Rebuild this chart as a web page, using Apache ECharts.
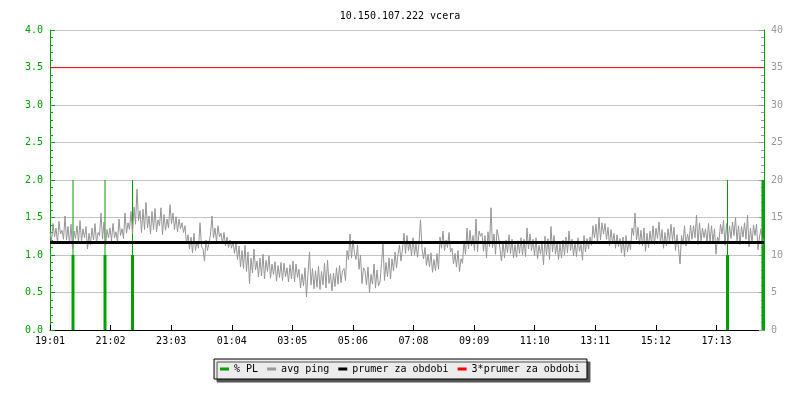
<!DOCTYPE html>
<html>
<head>
<meta charset="utf-8">
<script src="https://cdn.jsdelivr.net/npm/echarts@6/dist/echarts.min.js"></script>
<style>
  html, body { margin: 0; padding: 0; background: #fff; }
  #chart { width: 800px; height: 400px; }
</style>
</head>
<body>
<div id="chart"></div>
<script>
// time in minutes from 19:01, one ping sample every 3 min
const startMinute = 19 * 60 + 1
const stepMin = 3
const xTickMin = 121.17

// avg ping [ms], right axis
const avgPing = [
  13.1, 11.9, 14.2, 12.4, 13.6, 11.6, 14.5, 12.8, 13.3, 12.1, 15.2, 12.0, 13.8, 11.5, 14.1, 10.8, 13.2, 12.2, 13.9, 11.7,
  14.6, 11.8, 13.5, 12.3, 13.8, 10.8, 12.9, 11.4, 13.6, 12.0, 14.2, 11.6, 13.0, 12.6, 15.6, 12.1, 14.4, 11.2, 13.4, 12.3,
  13.6, 11.9, 14.2, 12.3, 13.1, 11.7, 14.8, 12.6, 13.5, 12.2, 15.6, 12.9, 14.3, 13.4, 15.8, 12.8, 16.4, 14.1, 18.8, 14.6,
  15.9, 13.0, 16.1, 13.4, 17.0, 13.6, 15.2, 12.8, 15.8, 13.4, 16.2, 13.1, 14.7, 13.9, 16.3, 12.7, 15.4, 13.3, 14.8, 13.6,
  16.7, 14.2, 15.6, 13.4, 15.1, 13.1, 14.8, 13.5, 14.3, 13.0, 13.9, 11.5, 12.7, 10.8, 12.4, 10.3, 12.9, 10.6, 11.8, 10.9,
  14.3, 11.1, 10.8, 9.2, 12.0, 10.6, 11.6, 12.8, 15.2, 12.3, 13.6, 11.8, 13.9, 12.4, 12.9, 11.5, 13.0, 11.2, 12.4, 11.0,
  12.0, 10.9, 11.8, 10.2, 11.6, 9.4, 11.2, 8.4, 10.6, 8.2, 11.3, 7.8, 10.4, 6.2, 9.6, 7.6, 10.8, 8.0, 9.2, 7.1,
  9.6, 7.2, 10.1, 6.8, 9.3, 7.8, 9.9, 6.9, 8.8, 7.4, 9.1, 6.5, 8.6, 7.0, 9.0, 6.6, 8.9, 7.1, 8.3, 6.4,
  8.7, 6.8, 9.2, 6.4, 8.8, 7.0, 8.1, 5.6, 7.5, 5.9, 8.3, 4.4, 7.6, 10.4, 6.0, 8.2, 5.5, 7.9, 5.7, 8.5,
  5.4, 7.8, 6.0, 8.9, 5.6, 9.3, 6.2, 7.5, 5.2, 7.6, 5.8, 8.3, 6.1, 8.6, 6.3, 7.9, 8.2, 6.6, 10.6, 9.4,
  12.8, 9.6, 12.0, 10.2, 9.4, 11.3, 8.1, 10.0, 6.2, 8.3, 7.9, 6.0, 8.4, 5.0, 7.4, 6.1, 8.8, 5.6, 8.0, 5.9,
  6.4, 8.9, 11.6, 6.6, 9.0, 7.1, 9.6, 6.8, 9.5, 7.9, 10.4, 8.3, 10.1, 11.3, 9.2, 10.8, 12.9, 10.2, 12.6, 10.6,
  11.8, 9.9, 12.3, 10.0, 11.5, 9.7, 11.6, 14.7, 10.8, 9.5, 11.0, 8.6, 10.1, 8.4, 10.3, 7.7, 9.4, 7.9, 10.2, 8.1,
  12.4, 10.9, 13.2, 10.6, 12.0, 11.0, 13.0, 10.4, 10.9, 8.8, 10.2, 8.4, 10.6, 7.8, 9.5, 8.9, 11.9, 10.1, 13.6, 10.8,
  13.3, 11.2, 12.6, 10.6, 14.8, 10.4, 13.2, 12.5, 12.9, 10.5, 12.6, 9.6, 13.1, 11.1, 16.3, 11.0, 12.8, 10.1, 13.4, 12.4,
  12.2, 9.2, 11.8, 9.6, 12.0, 10.3, 12.7, 10.2, 12.1, 9.6, 11.4, 9.7, 11.9, 10.2, 12.3, 10.0, 12.1, 9.8, 13.6, 10.8,
  12.8, 10.6, 12.1, 9.9, 12.3, 9.5, 11.3, 10.1, 11.6, 8.7, 12.5, 10.0, 12.2, 9.4, 13.8, 10.4, 12.6, 10.1, 11.6, 9.4,
  11.5, 9.6, 12.0, 10.0, 12.4, 10.3, 13.2, 10.6, 12.1, 9.9, 11.8, 9.8, 12.3, 10.5, 11.4, 9.3, 12.6, 10.4, 12.2, 10.8,
  12.4, 11.3, 13.9, 12.3, 14.1, 11.6, 15.0, 12.0, 14.3, 12.8, 14.2, 12.1, 13.7, 11.2, 13.4, 11.6, 12.9, 10.9, 12.7, 11.1,
  12.2, 10.3, 12.4, 9.8, 12.6, 10.4, 11.9, 10.7, 13.6, 12.6, 15.6, 12.0, 13.7, 11.4, 13.3, 11.2, 13.6, 10.5, 12.9, 11.0,
  13.2, 11.5, 13.9, 11.4, 13.6, 12.2, 14.4, 11.6, 13.4, 10.9, 13.0, 11.2, 13.5, 11.8, 14.1, 11.9, 13.7, 10.6, 12.7, 10.9,
  8.8, 12.6, 11.4, 13.9, 11.2, 12.8, 11.8, 14.0, 12.1, 13.9, 12.3, 15.3, 11.4, 14.3, 11.9, 13.6, 12.3, 13.5, 11.6, 14.2,
  11.6, 13.9, 11.7, 13.5, 10.1, 12.4, 11.9, 14.1, 12.8, 14.6, 11.3, 14.2, 11.6, 13.9, 12.2, 14.4, 12.6, 15.0, 11.8, 13.9,
  11.4, 13.8, 12.4, 14.3, 12.1, 15.3, 11.1, 13.6, 11.5, 14.0, 12.6, 14.1, 10.7, 12.4, 13.5, 11.3, 12.2
]
const endMin = (avgPing.length - 1) * stepMin

// packet loss [%], left axis
const plTimes = [46, 110, 165, 1355, 1426]
const plMax = [2, 2, 2, 2, 2]
const plAvg = [1, 1, 1, 1, 2]

const prumer = 11.66 // prumer za obdobi [ms]

const leftTicks = [0, 4, 0.5]
const rightTicks = [0, 40, 5]

const green = '#00a000'
const font = 'DejaVu Sans Mono'

function fmtTime(m) {
  const t = (startMinute + Math.floor(m + 1e-6)) % 1440
  const h = Math.floor(t / 60), mm = t % 60
  return String(h).padStart(2, '0') + ':' + String(mm).padStart(2, '0')
}

const chart = echarts.init(document.getElementById('chart'), null, { renderer: 'canvas' })

chart.setOption({
  animation: false,
  title: {
    text: '10.150.107.222 vcera',
    left: 'center',
    top: 6,
    textStyle: { fontFamily: font, fontSize: 10, fontWeight: 'normal', color: '#000' }
  },
  legend: {
    top: 359,
    left: 'center',
    icon: 'rect',
    itemWidth: 9,
    itemHeight: 3,
    itemGap: 9,
    padding: [5, 7, 5, 6],
    backgroundColor: '#ececec',
    borderColor: '#000',
    borderWidth: 1,
    borderRadius: 0,
    shadowColor: '#555',
    shadowOffsetX: 3,
    shadowOffsetY: 3,
    shadowBlur: 0,
    textStyle: { fontFamily: font, fontSize: 10, color: '#000' },
    data: ['% PL', 'avg ping', 'prumer za obdobi', '3*prumer za obdobi']
  },
  grid: { left: 50, right: 36, top: 30, bottom: 70 },
  xAxis: {
    type: 'value',
    min: 0,
    max: endMin,
    interval: xTickMin,
    axisLine: { lineStyle: { color: '#000', width: 1 } },
    axisTick: { inside: true, length: 5, lineStyle: { color: '#000' } },
    axisLabel: {
      fontFamily: font, fontSize: 10, color: '#000', margin: 6,
      showMaxLabel: false,
      formatter: v => fmtTime(v)
    },
    splitLine: { show: false }
  },
  yAxis: [{
    type: 'value',
    min: leftTicks[0], max: leftTicks[1], interval: leftTicks[2],
    axisLine: { show: true, lineStyle: { color: green } },
    axisTick: { show: true, inside: true, length: 5, lineStyle: { color: green } },
    minorTick: { show: true, splitNumber: 5, length: 3, lineStyle: { color: green } },
    axisLabel: { fontFamily: font, fontSize: 10, color: green, margin: 7, formatter: v => v.toFixed(1) },
    splitLine: { show: true, lineStyle: { color: '#c4c4c4', width: 1 } }
  }, {
    type: 'value',
    min: rightTicks[0], max: rightTicks[1], interval: rightTicks[2],
    axisLine: { show: true, lineStyle: { color: green } },
    axisTick: { show: true, inside: true, length: 5, lineStyle: { color: '#999' } },
    minorTick: { show: true, splitNumber: 5, length: 3, lineStyle: { color: '#999' } },
    axisLabel: { fontFamily: font, fontSize: 10, color: '#999', margin: 7 },
    splitLine: { show: false }
  }],
  series: [{
    name: '% PL',
    type: 'custom',
    yAxisIndex: 0,
    itemStyle: { color: green },
    encode: { x: 0, y: [1, 2] },
    data: plTimes.map((t, i) => [t, plMax[i], plAvg[i]]),
    renderItem(params, api) {
      const x = api.value(0)
      const p0 = api.coord([x, 0])
      const pMax = api.coord([x, api.value(1)])
      const pAvg = api.coord([x, api.value(2)])
      return {
        type: 'group',
        children: [{
          type: 'line',
          shape: { x1: p0[0], y1: p0[1], x2: pMax[0], y2: pMax[1] },
          style: { stroke: green, lineWidth: 1 }
        }, {
          type: 'rect',
          shape: { x: p0[0] - 1.5, y: pAvg[1], width: 3, height: p0[1] - pAvg[1] },
          style: { fill: green }
        }]
      }
    }
  }, {
    name: 'avg ping',
    type: 'line',
    yAxisIndex: 1,
    showSymbol: false,
    color: '#999',
    lineStyle: { color: '#959595', width: 1 },
    data: avgPing.map((v, i) => [i * stepMin, v])
  }, {
    name: 'prumer za obdobi',
    type: 'line',
    yAxisIndex: 1,
    showSymbol: false,
    color: '#000',
    lineStyle: { color: '#000', width: 3 },
    data: [[0, prumer], [endMin, prumer]]
  }, {
    name: '3*prumer za obdobi',
    type: 'line',
    yAxisIndex: 1,
    showSymbol: false,
    color: '#ff0000',
    lineStyle: { color: '#ff0000', width: 1 },
    data: [[0, 3 * prumer], [endMin, 3 * prumer]]
  }]
})
</script>
</body>
</html>
